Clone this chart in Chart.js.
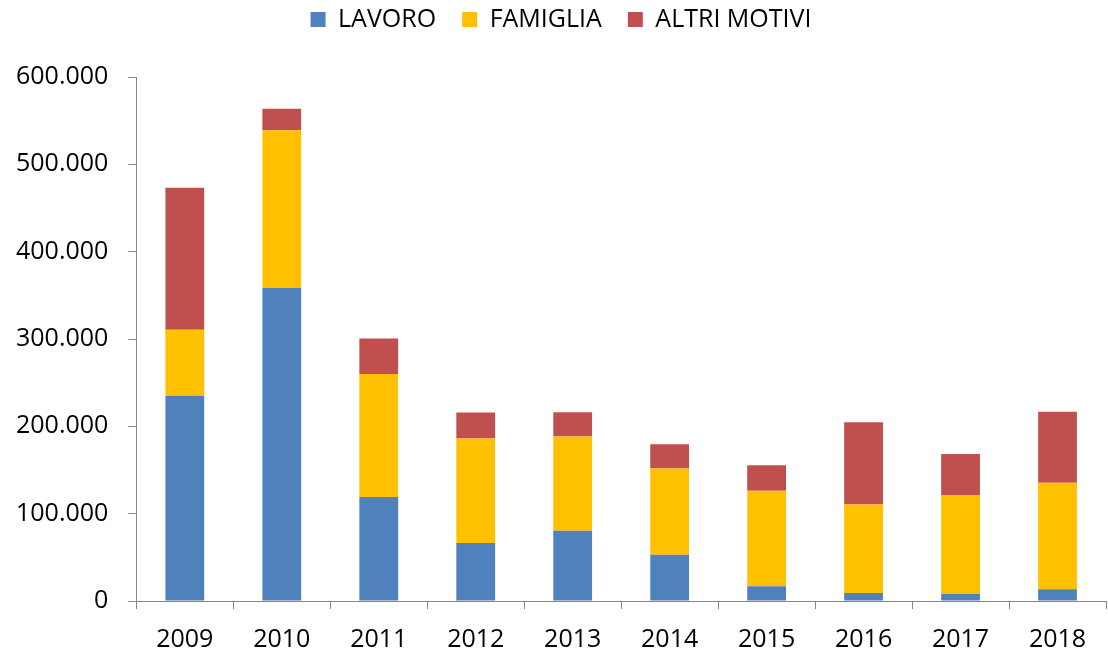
<!DOCTYPE html>
<html>
<head>
<meta charset="utf-8">
<script src="https://cdn.jsdelivr.net/npm/chart.js@4/dist/chart.umd.min.js"></script>
<style>
html,body{margin:0;padding:0;background:#fff;}
#wrap{width:1108px;height:652px;position:relative;}
</style>
</head>
<body>
<div id="wrap"><canvas id="c" width="1108" height="652"></canvas></div>
<script>
const categories = ['2009','2010','2011','2012','2013','2014','2015','2016','2017','2018'];
const lavoro   = [235000, 358500, 119000, 66400, 80400, 53000, 16800, 9200, 8000, 13400];
const famiglia = [75500, 180400, 141000, 119800, 108000, 98800, 109400, 101400, 112900, 122000];
const altri    = [162800, 24800, 40500, 29700, 27800, 27800, 29100, 94200, 47300, 81200];
const seriesNames = ['LAVORO','FAMIGLIA','ALTRI MOTIVI'];
const yTicksMax = 600000;
const yStep = 100000;

const FONT = "'Open Sans', sans-serif";
const axisColor = '#868686';

function fmt(v){ return String(Math.round(v)).replace(/\B(?=(\d{3})+(?!\d))/g, '.'); }

const legendSpacer = {
  id: 'legendSpacer',
  beforeInit(chart){
    const orig = chart.legend.fit;
    chart.legend.fit = function(){ orig.call(this); this.height += 35; };
  }
};

new Chart(document.getElementById('c'), {
  type: 'bar',
  data: {
    labels: categories,
    datasets: [
      {label: seriesNames[0], data: lavoro, backgroundColor: '#4F81BD'},
      {label: seriesNames[1], data: famiglia, backgroundColor: '#FFC000'},
      {label: seriesNames[2], data: altri, backgroundColor: '#C0504D'}
    ]
  },
  options: {
    responsive: false,
    animation: false,
    devicePixelRatio: 1,
    layout: {padding: {left: 16, right: 2, top: -19, bottom: 0}},
    datasets: {bar: {categoryPercentage: 1.0, barPercentage: 0.4, borderWidth: 0}},
    plugins: {
      legend: {
        position: 'top',
        labels: {
          font: {family: FONT, size: 25},
          color: '#000',
          boxWidth: 15, boxHeight: 15,
          padding: 26
        }
      },
      tooltip: {enabled: false}
    },
    scales: {
      x: {
        stacked: true,
        grid: {drawOnChartArea: false, drawTicks: true, tickLength: 8, color: axisColor},
        border: {color: axisColor, width: 1},
        ticks: {font: {family: FONT, size: 25}, color: '#000', padding: 16, maxRotation: 0},
        afterFit(scale){ scale.height -= 19; }
      },
      y: {
        stacked: true,
        min: 0, max: yTicksMax,
        grid: {drawOnChartArea: false, drawTicks: true, tickLength: 8, color: axisColor},
        border: {color: axisColor, width: 1},
        ticks: {stepSize: yStep, font: {family: FONT, size: 25}, color: '#000', padding: 20,
                callback: v => fmt(v)},
        afterFit(scale){ scale.width -= 20; }
      }
    }
  },
  plugins: [legendSpacer]
});
</script>
</body>
</html>
